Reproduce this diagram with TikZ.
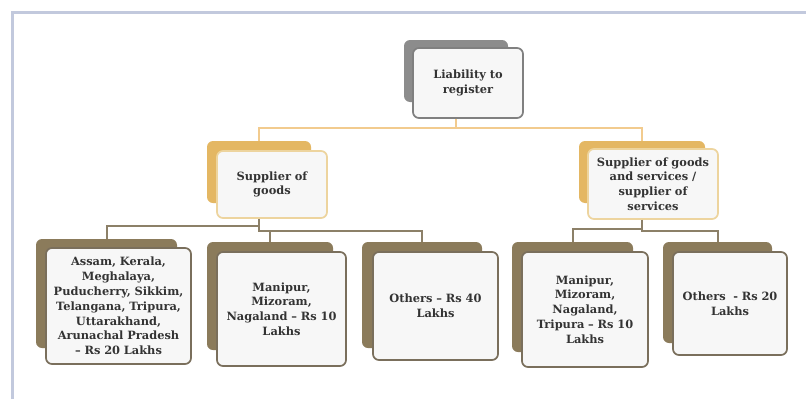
\documentclass[tikz,border=0pt]{standalone}
\usepackage{fontspec}
\setmainfont{DejaVu Serif}
\begin{document}
\begin{tikzpicture}[x=1pt,y=-1pt,
  every node/.style={font=\fontsize{11.4}{14.8}\selectfont\bfseries, text=black!80},
  backbox/.style={draw=none, rounded corners=6pt, inner sep=0pt},
  frontbox/.style={rounded corners=6pt, fill=black!3, line width=1.7pt, inner sep=0pt, align=center},
  greyback/.style={backbox, fill=black!45},
  goldback/.style={backbox, fill=goldc},
  brownback/.style={backbox, fill=brownc},
  greyfront/.style={frontbox, draw=black!50},
  goldfront/.style={frontbox, draw=goldl},
  brownfront/.style={frontbox, draw=brownd},
  toplink/.style={draw=orangel, line width=2pt},
  lowlink/.style={draw=brownl, line width=2pt}
]
\definecolor{goldc}{HTML}{E4B763}
\definecolor{goldl}{HTML}{EDD49E}
\definecolor{brownc}{HTML}{8B7B5B}
\definecolor{brownd}{HTML}{7A6F5C}
\definecolor{brownl}{HTML}{8C8068}
\definecolor{orangel}{HTML}{F2CB8E}
\definecolor{framec}{HTML}{C2C9DD}
\useasboundingbox (0,0) rectangle (806,399);
\fill[white] (0,0) rectangle (806,399);
\draw[framec, line width=3pt] (12,399) -- (12,12) -- (806,12);

% back shapes
\node[greyback, minimum width=104, minimum height=62] (ltb) at (456,71) {};
\node[goldback, minimum width=104, minimum height=62] (sgb) at (259,172) {};
\node[goldback, minimum width=126, minimum height=62] (ssb) at (642,172) {};
\node[brownback, minimum width=141, minimum height=109] (b1b) at (106.5,293.5) {};
\node[brownback, minimum width=126, minimum height=108] (b2b) at (270,296) {};
\node[brownback, minimum width=120, minimum height=106] (b3b) at (422,295) {};
\node[brownback, minimum width=121, minimum height=110] (b4b) at (572.5,297) {};
\node[brownback, minimum width=109, minimum height=101] (b5b) at (717.5,292.5) {};

% front shapes
\node[greyfront, minimum width=110, minimum height=70, text width=110] (lt) at (468,83) {Liability to\\register};
\node[goldfront, minimum width=110, minimum height=67, text width=110] (sg) at (272,184.5) {Supplier of\\goods};
\node[goldfront, minimum width=130, minimum height=70, text width=130] (ss) at (653,184) {Supplier of goods\\and services /\\supplier of\\services};

% connectors
\draw[toplink] (lt.south -| ltb.south) -- ++(0,9) coordinate (tj) -| (sgb.north);
\draw[toplink] (tj) -| (ssb.north);
\draw[lowlink] (sg.south -| sgb.south) -- ++(0,7) -| (b1b.north);
\draw[lowlink] (sg.south -| sgb.south) -- ++(0,12) coordinate (sj) -| (b2b.north);
\draw[lowlink] (sj) -| (b3b.north);
\draw[lowlink] (ss.south -| ssb.south) -- ++(0,9) -| (b4b.north);
\draw[lowlink] (ss.south -| ssb.south) -- ++(0,11) coordinate (rj) -| (b5b.north);

\node[brownfront, minimum width=145, minimum height=116, text width=145] (b1) at (118.5,306) {Assam, Kerala,\\Meghalaya,\\Puducherry, Sikkim,\\Telangana, Tripura,\\Uttarakhand,\\Arunachal Pradesh\\– Rs 20 Lakhs};
\node[brownfront, minimum width=129, minimum height=114, text width=129] (b2) at (281.5,309) {Manipur,\\Mizoram,\\Nagaland – Rs 10\\Lakhs};
\node[brownfront, minimum width=125, minimum height=108, text width=125] (b3) at (435.5,306) {Others – Rs 40\\Lakhs};
\node[brownfront, minimum width=126, minimum height=115, text width=126] (b4) at (585,309.5) {Manipur,\\Mizoram,\\Nagaland,\\Tripura – Rs 10\\Lakhs};
\node[brownfront, minimum width=114, minimum height=103, text width=114] (b5) at (730,303.5) {Others~~- Rs 20\\Lakhs};
\end{tikzpicture}
\end{document}
